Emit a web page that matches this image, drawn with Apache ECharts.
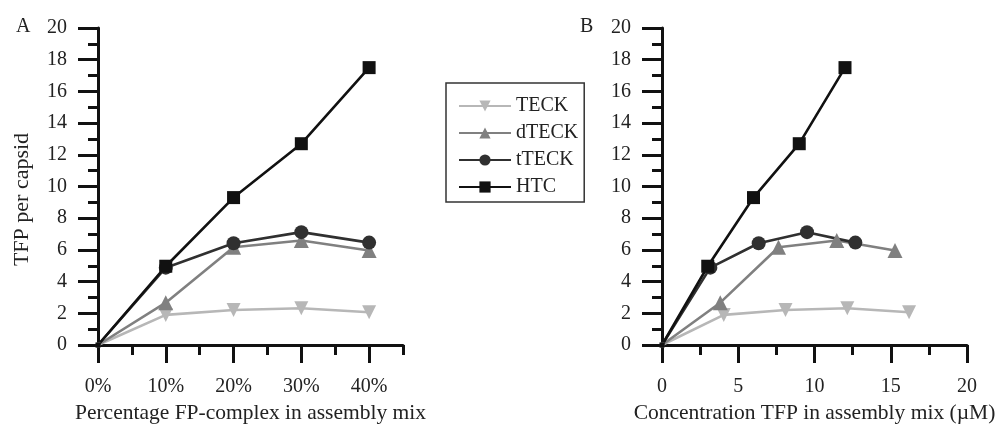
<!DOCTYPE html>
<html>
<head>
<meta charset="utf-8">
<script src="https://cdn.jsdelivr.net/npm/echarts@6/dist/echarts.min.js"></script>
<style>
html,body{margin:0;padding:0;background:#fff;}
#c{width:996px;height:424px;}
</style>
</head>
<body>
<div id="c"></div>
<script>
// ---- data ----
var seriesNames = ['TECK', 'dTECK', 'tTECK', 'HTC'];
var percentages = [0, 10, 20, 30, 40];
var teckValues  = [0, 1.90, 2.21, 2.32, 2.07];
var dteckValues = [0, 2.67, 6.17, 6.59, 5.96];
var tteckValues = [0, 4.88, 6.42, 7.12, 6.46];
var htcValues   = [0, 4.97, 9.30, 12.70, 17.50];
// concentrations (µM) for panel B
var teckConc  = [0, 4.05, 8.10, 12.15, 16.20];
var dteckConc = [0, 3.82, 7.64, 11.46, 15.28];
var tteckConc = [0, 3.17, 6.34, 9.51, 12.68];
var htcConc   = [0, 3.00, 6.00, 9.00, 12.00];
// tick labels
var pctTicks = [0, 10, 20, 30, 40];
var pctMinorTicks = [5, 15, 25, 35, 45];
var yTicks = [0, 2, 4, 6, 8, 10, 12, 14, 16, 18, 20];

var FONT = 'Liberation Serif';
var TXT = '#222';
var colors = ['#b7b7b7', '#808080', '#303030', '#111111'];
var symbols = ['triangle', 'triangle', 'circle', 'rect'];
var rotates = [180, 0, 0, 0];
var sizes = [14, 15, 14, 13];

function pairs(xs, ys) { return xs.map(function (x, i) { return [x, ys[i]]; }); }

var valsA = [teckValues, dteckValues, tteckValues, htcValues];
var concB = [teckConc, dteckConc, tteckConc, htcConc];

var axisLineStyle = { color: '#111', width: 3 };
var tickStyle = { color: '#111', width: 3 };

function yAxisFor(grid) {
  return {
    type: 'value', gridIndex: grid, min: 0, max: 20, interval: 2,
    axisLine: { show: true, lineStyle: axisLineStyle },
    axisTick: { show: true, length: 20, lineStyle: tickStyle },
    minorTick: { show: true, splitNumber: 2, length: 10, lineStyle: tickStyle },
    splitLine: { show: false },
    axisLabel: { margin: 31, fontFamily: FONT, fontSize: 20, color: TXT,
      customValues: yTicks },
    name: grid === 0 ? 'TFP per capsid' : '',
    nameLocation: 'middle', nameGap: 65,
    nameTextStyle: { fontFamily: FONT, fontSize: 22, color: TXT, padding: [0, 26, 0, 0] }
  };
}

var series = [];
seriesNames.forEach(function (n, i) {
  var sz = sizes[i];
  var common = {
    name: n, type: 'line', symbol: symbols[i], symbolRotate: rotates[i],
    symbolSize: function (v) { return v[0] === 0 ? 5 : sz; },
    lineStyle: { color: colors[i], width: 2.6 },
    itemStyle: { color: colors[i] },
    emphasis: { disabled: true }, animation: false
  };
  series.push(Object.assign({}, common, { xAxisIndex: 0, yAxisIndex: 0, data: pairs(percentages, valsA[i]) }));
  series.push(Object.assign({}, common, { xAxisIndex: 2, yAxisIndex: 1, data: pairs(concB[i], valsA[i]) }));
});

var option = {
  backgroundColor: '#fff',
  animation: false,
  grid: [
    { left: 98, top: 28, width: 305, height: 317, containLabel: false, outerBoundsMode: 'none' },
    { left: 662, top: 28, width: 305, height: 317, containLabel: false, outerBoundsMode: 'none' }
  ],
  title: [
    { text: 'A', left: 11, top: 12, textStyle: { fontFamily: FONT, fontSize: 20, fontWeight: 'normal', color: TXT } },
    { text: 'B', left: 575, top: 12, textStyle: { fontFamily: FONT, fontSize: 20, fontWeight: 'normal', color: TXT } }
  ],
  legend: {
    data: seriesNames, orient: 'vertical', left: 446, top: 83,
    padding: [13, 6, 5, 12], itemGap: 7, itemWidth: 52, itemHeight: 14,
    borderColor: '#333', borderWidth: 1.5,
    textStyle: { fontFamily: FONT, fontSize: 20, color: TXT }
  },
  xAxis: [
    { type: 'value', gridIndex: 0, position: 'bottom', min: 0, max: 45, interval: 5,
      axisLine: { show: true, onZero: false, lineStyle: axisLineStyle },
      axisTick: { show: true, length: 18, lineStyle: tickStyle, customValues: pctTicks },
      splitLine: { show: false },
      axisLabel: { margin: 32, fontFamily: FONT, fontSize: 20, color: TXT, customValues: pctTicks,
        formatter: function (v) { return v + '%'; } },
      name: 'Percentage FP-complex in assembly mix', nameLocation: 'middle', nameGap: 46,
      nameTextStyle: { fontFamily: FONT, fontSize: 21.5, color: TXT } },
    { type: 'value', gridIndex: 0, position: 'bottom', min: 0, max: 45, interval: 5,
      axisLine: { show: false },
      axisTick: { show: true, length: 10, lineStyle: tickStyle, customValues: pctMinorTicks },
      splitLine: { show: false },
      axisLabel: { show: false } },
    { type: 'value', gridIndex: 1, position: 'bottom', min: 0, max: 20, interval: 5,
      axisLine: { show: true, onZero: false, lineStyle: axisLineStyle },
      axisTick: { show: true, length: 18, lineStyle: tickStyle },
      minorTick: { show: true, splitNumber: 2, length: 10, lineStyle: tickStyle },
      splitLine: { show: false },
      axisLabel: { margin: 32, fontFamily: FONT, fontSize: 20, color: TXT },
      name: 'Concentration TFP in assembly mix (\u00B5M)', nameLocation: 'middle', nameGap: 46,
      nameTextStyle: { fontFamily: FONT, fontSize: 21.5, color: TXT } }
  ],
  yAxis: [yAxisFor(0), yAxisFor(1)],
  series: series
};

var chart = echarts.init(document.getElementById('c'), null, { renderer: 'canvas' });
chart.setOption(option);
</script>
</body>
</html>
